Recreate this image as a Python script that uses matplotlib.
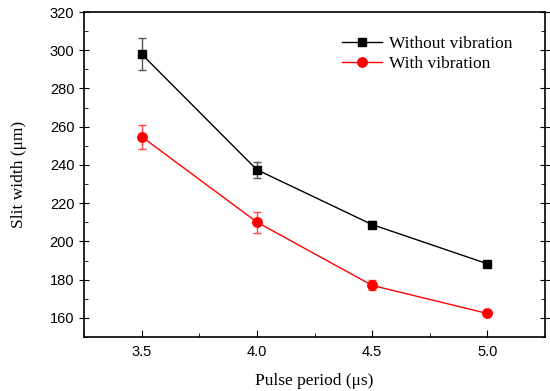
import matplotlib
matplotlib.use('Agg')
import matplotlib.pyplot as plt
from matplotlib.ticker import MultipleLocator

period = [3.5, 4.0, 4.5, 5.0]
without_vib = [298, 237.5, 208.8, 188.3]
without_err = [8.5, 4.2, 2.0, 1.5]
with_vib = [254.8, 210.1, 177.0, 162.3]
with_err = [6.2, 5.5, 2.6, 1.4]

fig = plt.figure(figsize=(5.5, 3.91), dpi=100)
ax = fig.add_axes([84/550, 1 - 337/391, (545-84)/550, (337-12)/391])

# error bars first, then the lines with markers (these go in the legend)
ax.errorbar(period, without_vib, yerr=without_err, fmt='none', ecolor='#555555',
            elinewidth=1, capsize=3)
ax.errorbar(period, with_vib, yerr=with_err, fmt='none', ecolor='#ff4444',
            elinewidth=1, capsize=3)
ax.plot(period, without_vib, color='black', marker='s', markersize=5.8,
        linewidth=1, label='Without vibration')
ax.plot(period, with_vib, color='red', marker='o', markersize=6.8,
        linewidth=1, label='With vibration')

ax.set_xlim(3.25, 5.25)
ax.set_ylim(150, 320)
ax.xaxis.set_major_locator(MultipleLocator(0.5))
ax.xaxis.set_minor_locator(MultipleLocator(0.25))
ax.yaxis.set_minor_locator(MultipleLocator(10))
ax.set_yticks(range(160, 321, 20))
ax.tick_params(which='both', direction='in', right=True, top=False, labelsize=10.5)
ax.tick_params(axis='y', which='major', direction='inout', length=7)
ax.tick_params(axis='x', which='major', length=5, pad=6)
ax.tick_params(which='minor', length=3)
for lab in ax.get_xticklabels() + ax.get_yticklabels():
    lab.set_family('Liberation Sans')
for s in ax.spines.values():
    s.set_linewidth(1.2)

ax.set_xlabel('Pulse period (\u03bcs)', family='Liberation Serif', fontsize=12.5, labelpad=10)
ax.set_ylabel('Slit width (\u03bcm)', family='Liberation Serif', fontsize=12.5, labelpad=16)

leg = ax.legend(loc='upper left', bbox_to_anchor=(0.525, 0.975), frameon=False,
                prop={'family': 'Liberation Serif', 'size': 12.5}, handlelength=2.3,
                handletextpad=0.4, labelspacing=0.25)

fig.savefig('out.png', dpi=100)
